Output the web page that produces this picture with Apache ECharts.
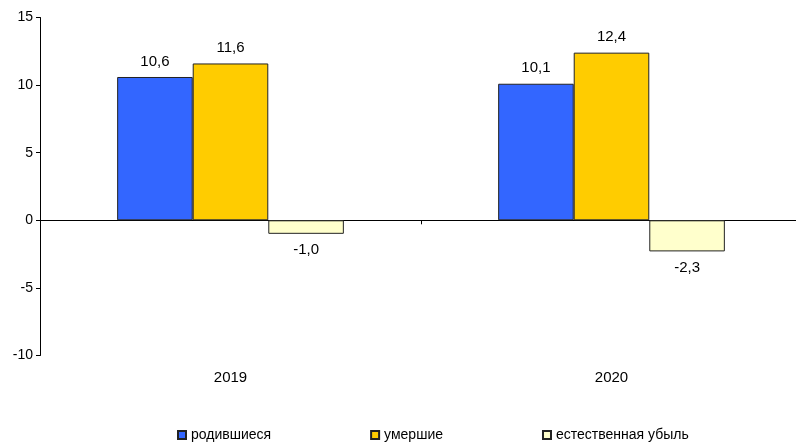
<!DOCTYPE html>
<html>
<head>
<meta charset="utf-8">
<script src="https://cdn.jsdelivr.net/npm/echarts@6/dist/echarts.min.js"></script>
<style>html,body{margin:0;padding:0;background:#fff;overflow:hidden}#c{width:810px;height:443px}</style>
</head>
<body>
<div id="c"></div>
<script>
var categories = ['2019', '2020'];
var born = [10.6, 10.1];
var died = [11.6, 12.4];
var natural = [-1.0, -2.3];
var seriesNames = ['родившиеся', 'умершие', 'естественная убыль'];
var yTicks = { min: -10, max: 15, interval: 5 };

var font = 'Liberation Sans, Arial, sans-serif';
var fmt = function (p) { return p.value.toFixed(1).replace('.', ','); };
var chart = echarts.init(document.getElementById('c'));
var lbl = function (pos, dist) {
  return { show: true, position: pos, distance: dist, formatter: fmt, color: '#000', fontSize: 15, fontFamily: font };
};
chart.setOption({
  animation: false,
  textStyle: { fontFamily: font },
  grid: { left: 40, top: 17.5, width: 762, height: 338, containLabel: false },
  legend: {
    bottom: -4, left: 172, itemWidth: 8, itemHeight: 8, itemGap: 99, icon: 'rect',
    textStyle: { fontSize: 14, color: '#000', fontFamily: font },
    data: seriesNames
  },
  xAxis: [{
    type: 'category', data: categories, position: 'bottom',
    axisLine: { onZero: true, lineStyle: { color: '#000', width: 1 } },
    axisTick: { show: true, length: 4, interval: 0, lineStyle: { color: '#000' } },
    axisLabel: { show: false }
  }, {
    type: 'category', data: categories, position: 'bottom',
    axisLine: { show: false }, axisTick: { show: false },
    axisLabel: { show: true, margin: 15, fontSize: 15, color: '#000', fontFamily: font }
  }],
  yAxis: {
    type: 'value', min: yTicks.min, max: yTicks.max, interval: yTicks.interval,
    axisLine: { show: true, lineStyle: { color: '#000' } },
    axisTick: { show: true, length: 4, lineStyle: { color: '#000' } },
    splitLine: { show: false },
    axisLabel: { fontSize: 14, color: '#000', margin: 7, fontFamily: font }
  },
  series: [
    { name: seriesNames[0], type: 'bar', data: born, barGap: 0, barCategoryGap: '40.5%',
      itemStyle: { color: '#3366FF', borderColor: '#222', borderWidth: 1 }, label: lbl('top', 8) },
    { name: seriesNames[1], type: 'bar', data: died, barGap: 0, barCategoryGap: '40.5%',
      itemStyle: { color: '#FFCC00', borderColor: '#222', borderWidth: 1 }, label: lbl('top', 8) },
    { name: seriesNames[2], type: 'bar', data: natural, barGap: 0, barCategoryGap: '40.5%',
      itemStyle: { color: '#FFFFCC', borderColor: '#222', borderWidth: 1 }, label: lbl('bottom', 9) }
  ]
});
</script>
</body>
</html>
